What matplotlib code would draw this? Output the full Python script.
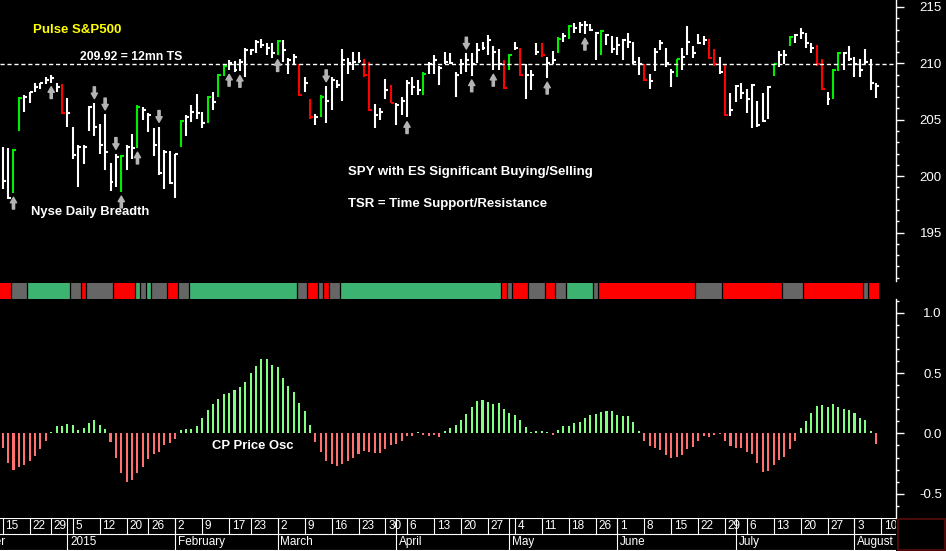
import numpy as np
import pandas as pd
import matplotlib
matplotlib.use("Agg")
import matplotlib.pyplot as plt
from matplotlib.ticker import MultipleLocator
from matplotlib.patches import Rectangle

plt.rcParams['font.family'] = ['Liberation Sans', 'DejaVu Sans']

# trading calendar (NYSE holidays removed)
holidays = ["2014-12-25", "2015-01-01", "2015-01-19", "2015-02-16",
            "2015-04-03", "2015-05-25", "2015-07-03"]
days = pd.bdate_range("2014-12-01", "2015-08-10")
days = days[~days.isin(pd.to_datetime(holidays))]
start = list(days).index(pd.Timestamp("2014-12-15"))
month_labels = ["December", "2015", "February", "March", "April", "May",
                "June", "July", "August"]

# SPY daily bars, Dec 15 2014 - Aug 7 2015
highs = [202.6, 202.5, 202.4, 207.0, 207.2, 207.5, 208.3, 208.3, 208.8, 209.0,
         208.3, 208.2, 206.9, 204.4, 202.8, 202.8, 206.2, 206.5, 204.6, 205.5,
         201.2, 202.0, 201.9, 202.8, 203.7, 206.3, 206.1, 205.6, 204.3, 204.4,
         202.3, 202.2, 202.0, 205.0, 205.4, 206.3, 207.3, 205.7, 207.1, 207.5,
         209.1, 209.9, 210.3, 210.2, 210.4, 211.4, 211.3, 212.1, 212.2, 211.8,
         211.8, 212.1, 212.1, 210.5, 210.8, 209.9, 208.8, 206.8, 205.5, 207.2,
         208.0, 208.8, 208.5, 211.3, 210.5, 211.0, 211.0, 210.4, 210.1, 206.4,
         206.0, 208.6, 208.1, 206.5, 207.0, 208.5, 208.8, 208.5, 209.2, 210.1,
         210.7, 209.8, 211.0, 210.9, 209.2, 210.4, 210.9, 210.9, 211.8, 211.9,
         212.5, 211.5, 211.3, 210.3, 210.8, 211.9, 211.4, 209.9, 209.4, 211.8,
         211.8, 210.6, 211.1, 212.3, 212.7, 213.4, 213.6, 213.7, 213.8, 213.5,
         212.8, 213.0, 212.6, 212.4, 212.3, 212.2, 212.7, 211.9, 210.6, 209.9,
         209.1, 211.4, 212.1, 211.4, 209.5, 210.4, 211.4, 213.3, 211.5, 212.6,
         212.4, 212.2, 211.3, 210.6, 209.9, 207.4, 208.1, 208.3, 207.7, 208.2,
         206.7, 207.4, 208.0, 209.9, 211.1, 211.2, 212.4, 212.6, 213.1, 212.7,
         211.8, 211.6, 210.4, 207.5, 209.5, 211.0, 211.0, 211.5, 210.6, 210.4,
         211.3, 210.4, 208.3]
lows = [198.9, 198.0, 198.5, 204.0, 205.7, 206.5, 207.5, 207.7, 208.2, 208.3,
        207.5, 205.5, 204.4, 201.5, 199.0, 201.1, 204.0, 203.6, 202.0, 200.5,
        198.7, 199.0, 198.6, 200.5, 201.5, 202.5, 205.0, 203.9, 201.8, 200.1,
        198.9, 199.3, 198.1, 202.6, 203.6, 204.8, 205.1, 204.3, 204.7, 205.9,
        207.0, 208.9, 209.4, 209.2, 209.3, 208.8, 210.7, 210.9, 211.4, 210.7,
        210.5, 210.7, 210.1, 209.1, 209.9, 207.1, 207.5, 205.1, 204.5, 205.2,
        204.7, 205.9, 207.8, 206.7, 209.1, 209.4, 210.0, 208.8, 205.8, 204.3,
        205.0, 206.8, 206.5, 204.5, 205.4, 205.2, 207.2, 207.2, 207.2, 209.1,
        209.1, 208.1, 209.9, 209.9, 207.0, 209.1, 209.2, 208.9, 210.0, 211.2,
        210.7, 209.4, 209.4, 207.7, 209.4, 211.2, 208.9, 206.8, 207.6, 210.7,
        210.6, 208.7, 209.9, 210.9, 211.9, 212.2, 212.7, 212.7, 212.6, 212.9,
        210.3, 210.7, 211.6, 210.9, 210.7, 210.3, 211.4, 209.9, 209.0, 208.4,
        207.7, 209.3, 211.2, 209.7, 207.9, 208.8, 209.4, 210.7, 210.5, 211.7,
        211.6, 210.4, 209.8, 209.1, 205.3, 205.3, 206.6, 206.8, 205.6, 204.3,
        204.4, 204.8, 205.1, 208.9, 209.7, 209.9, 211.5, 211.8, 212.2, 211.4,
        210.9, 209.8, 207.6, 206.3, 206.8, 209.3, 209.4, 210.2, 208.8, 208.8,
        209.9, 207.6, 206.9]
closes = [199.6, 198.1, 202.3, 206.9, 207.0, 207.5, 207.9, 208.3, 208.5, 208.7,
          207.9, 205.6, 205.6, 201.9, 202.6, 202.6, 206.1, 204.4, 202.8, 202.1,
          199.5, 201.7, 201.8, 202.6, 202.5, 206.1, 205.9, 205.4, 202.8, 200.3,
          202.1, 199.4, 202.0, 204.9, 205.2, 205.7, 205.6, 204.7, 207.0, 206.6,
          209.0, 209.8, 210.0, 209.4, 210.1, 211.2, 211.2, 211.9, 211.6, 211.4,
          210.9, 212.0, 211.2, 210.3, 210.6, 207.2, 208.3, 205.2, 205.2, 207.0,
          206.7, 208.5, 208.1, 210.3, 210.0, 210.1, 210.2, 209.0, 205.9, 205.4,
          205.7, 207.6, 206.5, 206.3, 206.7, 208.3, 207.9, 207.6, 209.1, 209.9,
          210.3, 209.6, 210.1, 210.0, 209.0, 209.9, 210.3, 209.9, 211.2, 211.4,
          212.1, 211.0, 209.9, 207.8, 210.7, 211.4, 209.0, 209.0, 209.0, 211.0,
          210.7, 210.0, 210.3, 212.2, 212.4, 213.3, 213.1, 213.4, 213.4, 213.0,
          212.7, 212.9, 212.5, 211.3, 211.6, 212.1, 211.9, 210.1, 209.9, 208.5,
          208.4, 211.0, 211.8, 210.0, 209.2, 210.4, 210.6, 211.9, 210.9, 211.8,
          212.1, 210.5, 209.9, 209.2, 205.4, 205.9, 208.0, 207.4, 206.8, 208.1,
          204.5, 204.9, 207.9, 209.9, 210.7, 210.7, 212.3, 212.5, 212.7, 211.8,
          211.4, 209.9, 207.7, 206.8, 209.4, 210.9, 210.9, 210.4, 209.9, 209.4,
          210.1, 208.3, 208.0]
# ES significant buying / selling days (0-based bar numbers)
buying_days = [2, 3, 22, 25, 33, 38, 40, 41, 51, 59, 78, 94, 103, 105, 111,
               125, 143, 146, 154, 155]
selling_days = [11, 55, 57, 67, 68, 72, 93, 96, 100, 119, 131, 132, 134, 151, 152]
# breadth arrows
up_arrows = [2, 9, 22, 25, 42, 44, 51, 75, 87, 91, 101, 108]
down_arrows = [17, 19, 21, 29, 60, 86]
ts_level = 209.92

# TSR state strip, run lengths
band_runs = [("sell", 2), ("flat", 3), ("buy", 8), ("flat", 2), ("sell", 1),
             ("flat", 5), ("sell", 4), ("buy", 1), ("flat", 1), ("buy", 1),
             ("flat", 3), ("sell", 2), ("flat", 2), ("buy", 20), ("flat", 2),
             ("sell", 2), ("flat", 1), ("sell", 1), ("flat", 2), ("buy", 30),
             ("sell", 1), ("flat", 1), ("sell", 3), ("flat", 3), ("sell", 2),
             ("flat", 2), ("buy", 5), ("flat", 1), ("sell", 18), ("flat", 5),
             ("sell", 11), ("flat", 4), ("sell", 11), ("flat", 1), ("sell", 2)]

# CP price oscillator
osc = [-0.125, -0.244, -0.30, -0.278, -0.26, -0.228, -0.186, -0.128, -0.06, 0.014,
       0.061, 0.061, 0.078, 0.069, 0.028, 0.044, 0.086, 0.111, 0.069, 0.036,
       -0.069, -0.20, -0.325, -0.403, -0.383, -0.328, -0.278, -0.208, -0.167, -0.153,
       -0.094, -0.078, -0.05, 0.028, 0.036, 0.036, 0.061, 0.125, 0.194, 0.242,
       0.286, 0.328, 0.339, 0.361, 0.386, 0.425, 0.50, 0.561, 0.619, 0.619,
       0.569, 0.55, 0.458, 0.394, 0.342, 0.256, 0.186, 0.069, -0.069, -0.15,
       -0.225, -0.25, -0.27, -0.25, -0.23, -0.20, -0.172, -0.147, -0.153, -0.161,
       -0.161, -0.131, -0.097, -0.089, -0.061, -0.022, -0.022, 0.011, -0.014, -0.019,
       -0.011, -0.028, 0.019, 0.044, 0.069, 0.111, 0.161, 0.222, 0.269, 0.278,
       0.261, 0.244, 0.253, 0.203, 0.167, 0.153, 0.111, 0.05, 0.014, 0.019,
       0.019, 0.011, -0.011, 0.028, 0.061, 0.061, 0.086, 0.097, 0.128, 0.156,
       0.164, 0.181, 0.189, 0.186, 0.153, 0.144, 0.144, 0.097, 0.019, -0.061,
       -0.106, -0.117, -0.139, -0.181, -0.203, -0.194, -0.181, -0.128, -0.111, -0.061,
       -0.022, -0.028, -0.014, -0.006, -0.061, -0.106, -0.119, -0.119, -0.153, -0.167,
       -0.244, -0.319, -0.311, -0.264, -0.217, -0.194, -0.131, -0.061, 0.044, 0.103,
       0.172, 0.228, 0.236, 0.222, 0.244, 0.222, 0.20, 0.194, 0.167, 0.125,
       0.111, 0.019, -0.089]

W, H = 946, 551
fig = plt.figure(figsize=(W / 100, H / 100), dpi=100, facecolor="black")
right = 896 / W
xlim = (-0.5, 165.7)
x = np.arange(len(highs))
fg = "white"


def px_axes(top, bottom):
    return fig.add_axes([0, 1 - bottom / H, right, (bottom - top) / H])


def right_axis(ax, major, minor, fmt):
    ax.set_facecolor("black")
    for s in ["top", "left", "bottom"]:
        ax.spines[s].set_visible(False)
    ax.spines["right"].set_color(fg)
    ax.spines["right"].set_linewidth(1)
    ax.yaxis.tick_right()
    ax.yaxis.set_major_locator(MultipleLocator(major))
    ax.yaxis.set_minor_locator(MultipleLocator(minor))
    ax.yaxis.set_major_formatter(plt.FuncFormatter(fmt))
    ax.tick_params(axis="y", which="major", length=6, width=1, colors=fg,
                   labelsize=9.5, pad=27)
    ax.tick_params(axis="y", which="minor", length=2.5, width=1, colors=fg)
    ax.set_xticks([])
    for lbl in ax.get_yticklabels():
        lbl.set_horizontalalignment("right")


# ---- price panel
ax = px_axes(0, 281)
ax.set_xlim(*xlim)
ax.set_ylim(190.7, 215.62)
right_axis(ax, 5, 1, lambda v, p: f"{v:.0f}")

colors = []
for i in x:
    if i in buying_days:
        colors.append("#00ee00")
    elif i in selling_days:
        colors.append("#ff0000")
    else:
        colors.append("white")
ax.vlines(x, lows, highs, colors=colors, lw=1.5)
ax.hlines(closes, x, x + 0.55, colors=colors, lw=1.5)
ax.axhline(ts_level, color=fg, lw=1, ls=(0, (3, 2)))

arrow_style = "simple,head_length=0.4,head_width=0.45,tail_width=0.16"
for i in up_arrows:
    ax.annotate("", xy=(i, lows[i]), xytext=(0, -16), textcoords="offset pixels",
                arrowprops=dict(arrowstyle=arrow_style, color="#b4b4b4",
                                shrinkA=0, shrinkB=3, mutation_scale=10))
for i in down_arrows:
    ax.annotate("", xy=(i, highs[i]), xytext=(0, 16), textcoords="offset pixels",
                arrowprops=dict(arrowstyle=arrow_style, color="#b4b4b4",
                                shrinkA=0, shrinkB=3, mutation_scale=10))


def ftext(px, py, s, color=fg, size=9.4, weight="bold"):
    fig.text(px / W, 1 - py / H, s, color=color, fontsize=size,
             fontweight=weight, va="center", ha="left")


ftext(33, 30, "Pulse S&P500", color="#ffff00", size=9.5)
ftext(80, 57, "209.92 = 12mn TS", size=8.8)
ftext(31, 212, "Nyse Daily Breadth")
ftext(348, 172, "SPY with ES Significant Buying/Selling", size=9.5)
ftext(348, 204, "TSR = Time Support/Resistance", size=9.5)
ftext(212, 446, "CP Price Osc")

# ---- TSR strip
axb = px_axes(283, 299)
axb.set_xlim(*xlim)
axb.set_ylim(0, 1)
axb.axis("off")
band_col = {"sell": "#ff0000", "flat": "#666666", "buy": "#3cb371"}
pos = 0
for state, n in band_runs:
    axb.add_patch(Rectangle((pos - 0.5, 0), n, 1, color=band_col[state], lw=0))
    if pos > 0:
        axb.axvline(pos - 0.5, color="black", lw=0.9)
    pos += n

# ---- oscillator
axo = px_axes(299, 517.5)
axo.set_xlim(*xlim)
axo.set_ylim(-0.697, 1.114)
right_axis(axo, 0.5, 0.1, lambda v, p: f"{v:.1f}")
osc_col = ["#80ff80" if v >= 0 else "#ff7070" for v in osc]
axo.bar(x, osc, width=0.38, color=osc_col, lw=0)

# ---- date axis
axd = fig.add_axes([0, 0, right, 33 / H])
axd.set_xlim(*xlim)
axd.set_ylim(0, 1)
axd.axis("off")
for yy in (0.985, 0.506, 0.03):
    axd.axhline(yy, color=fg, lw=0.8)
dx = np.arange(len(days)) - start
m = 0
for k in range(len(days)):
    new_week = k == 0 or days[k].weekday() <= days[k - 1].weekday()
    new_month = k == 0 or days[k].month != days[k - 1].month
    if new_month:
        axd.plot([dx[k], dx[k]], [0.03, 0.985], color=fg, lw=0.8, clip_on=True)
        axd.text(dx[k] + 0.5, 0.26, month_labels[m], color=fg, fontsize=8.5,
                 va="center", ha="left", clip_on=True)
        m += 1
    if new_week and dx[k] >= 0:
        axd.plot([dx[k], dx[k]], [0.506, 0.985], color=fg, lw=0.8, clip_on=True)
        axd.text(dx[k] + 0.5, 0.76, str(days[k].day), color=fg, fontsize=8.5,
                 va="center", ha="left", clip_on=True)

fig.patches.append(Rectangle((898 / W, 1 / H), 47 / W, 31 / H, fill=False,
                             edgecolor="#4a0a0a", lw=1.5,
                             transform=fig.transFigure))

fig.savefig("out.png", dpi=100, facecolor="black")
